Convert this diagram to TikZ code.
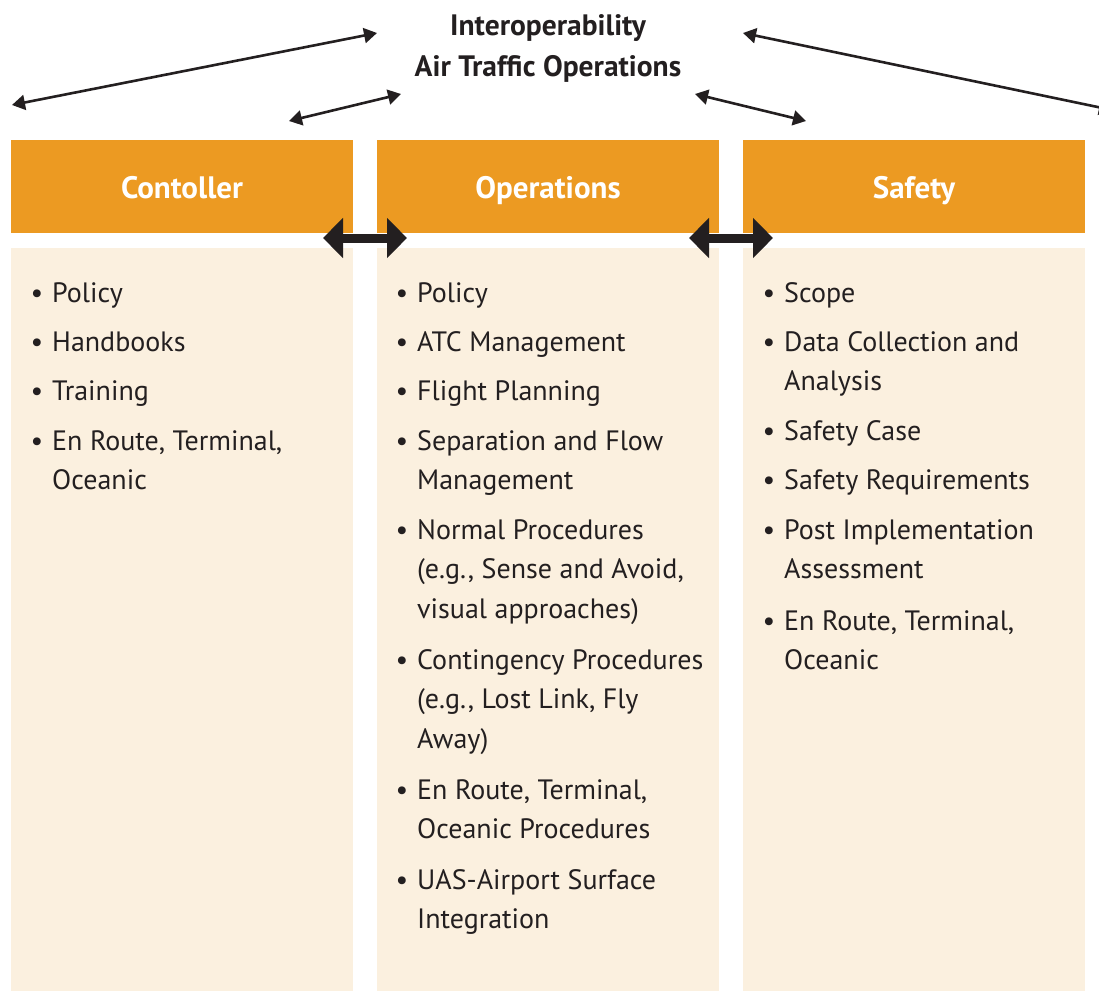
\documentclass[tikz,border=0pt]{standalone}
\usepackage{fontspec}
\setmainfont{PT Sans}
\usetikzlibrary{arrows.meta}
\definecolor{hdr}{HTML}{EC9A22}
\definecolor{bodyc}{HTML}{FBF0DF}
\definecolor{ink}{HTML}{231F20}
\tikzset{
  hdrbox/.style={fill=hdr,draw=none},
  bodybox/.style={fill=bodyc,draw=none},
  hdrtext/.style={text=white,font=\fontsize{31}{34}\selectfont\bfseries,inner sep=0pt,anchor=base},
  titletext/.style={text=ink,font=\fontsize{29.5}{41}\selectfont\bfseries,align=center,inner sep=0pt},
  itemtext/.style={text=ink,font=\fontsize{28}{39.5}\selectfont,anchor=base west,inner sep=0pt},
  bul/.style={text=ink,font=\fontsize{28}{39.5}\selectfont,anchor=base,inner sep=0pt},
  thinarrow/.style={draw=ink,line width=2.6pt,{Triangle[length=13pt,width=15pt]}-{Triangle[length=13pt,width=15pt]}},
  thickarrow/.style={draw=ink,line width=9pt,{Triangle[length=20pt,width=39pt]}-{Triangle[length=20pt,width=39pt]}}
}
\newcommand{\Lines}[1]{\begin{tabular}[t]{@{}l@{}}#1\end{tabular}}
\begin{document}
\begin{tikzpicture}[x=1pt,y=-1pt]
\useasboundingbox (0,0) rectangle (1099,990);
% boxes
\node[hdrbox,minimum width=342pt,minimum height=93pt,anchor=north west] (h1) at (11,140) {};
\node[hdrbox,minimum width=342pt,minimum height=93pt,anchor=north west] (h2) at (377,140) {};
\node[hdrbox,minimum width=342pt,minimum height=93pt,anchor=north west] (h3) at (743,140) {};
\node[bodybox,minimum width=342pt,minimum height=745pt,anchor=north west] (b1) at (11,248) {};
\node[bodybox,minimum width=342pt,minimum height=745pt,anchor=north west] (b2) at (377,248) {};
\node[bodybox,minimum width=342pt,minimum height=745pt,anchor=north west] (b3) at (743,248) {};
% header texts
\node[hdrtext] (t1) at (182,198) {Contoller};
\node[hdrtext] (t2) at (548,198) {Operations};
\node[hdrtext] (t3) at (914,198) {Safety};
% title (base anchor = last line)
\node[titletext,anchor=base] (title) at (548,77) {Interoperability\\Air Traffic Operations};
% thin arrows
\coordinate (a1s) at (12,105); \coordinate (a1e) at (377,33);
\coordinate (a2s) at (289,121); \coordinate (a2e) at (401,94);
\coordinate (a3s) at (743,33); \coordinate (a3e) at (1112,110);
\coordinate (a4s) at (695,94); \coordinate (a4e) at (806,121);
\draw[thinarrow] (a1s) -- (a1e);
\draw[thinarrow] (a2s) -- (a2e);
\draw[thinarrow] (a3s) -- (a3e);
\draw[thinarrow] (a4s) -- (a4e);
% thick arrows
\coordinate (k1s) at (323,238); \coordinate (k1e) at (407,238);
\coordinate (k2s) at (689,238); \coordinate (k2e) at (773,238);
\draw[thickarrow] (k1s) -- (k1e);
\draw[thickarrow] (k2s) -- (k2e);
% left column
\node[bul] (lb1) at (37,302) {\textbullet}; \node[itemtext] (l1) at (52,302) {\Lines{Policy}};
\node[bul] (lb2) at (37,351) {\textbullet}; \node[itemtext] (l2) at (52,351) {\Lines{Handbooks}};
\node[bul] (lb3) at (37,400) {\textbullet}; \node[itemtext] (l3) at (52,400) {\Lines{Training}};
\node[bul] (lb4) at (37,450) {\textbullet}; \node[itemtext] (l4) at (52,450) {\Lines{En Route, Terminal,\\Oceanic}};
% middle column
\node[bul] (mb1) at (402,302) {\textbullet}; \node[itemtext] (m1) at (417,302) {\Lines{Policy}};
\node[bul] (mb2) at (402,351) {\textbullet}; \node[itemtext] (m2) at (417,351) {\Lines{ATC Management}};
\node[bul] (mb3) at (402,400) {\textbullet}; \node[itemtext] (m3) at (417,400) {\Lines{Flight Planning}};
\node[bul] (mb4) at (402,450) {\textbullet}; \node[itemtext] (m4) at (417,450) {\Lines{Separation and Flow\\Management}};
\node[bul] (mb5) at (402,539) {\textbullet}; \node[itemtext] (m5) at (417,539) {\Lines{Normal Procedures\\(e.g., Sense and Avoid,\\visual approaches)}};
\node[bul] (mb6) at (402,669) {\textbullet}; \node[itemtext] (m6) at (417,669) {\Lines{Contingency Procedures\\(e.g., Lost Link, Fly\\Away)}};
\node[bul] (mb7) at (402,799) {\textbullet}; \node[itemtext] (m7) at (417,799) {\Lines{En Route, Terminal,\\Oceanic Procedures}};
\node[bul] (mb8) at (402,889) {\textbullet}; \node[itemtext] (m8) at (417,889) {\Lines{UAS-Airport Surface\\Integration}};
% right column
\node[bul] (rb1) at (769,302) {\textbullet}; \node[itemtext] (r1) at (784,302) {\Lines{Scope}};
\node[bul] (rb2) at (769,351) {\textbullet}; \node[itemtext] (r2) at (784,351) {\Lines{Data Collection and\\Analysis}};
\node[bul] (rb3) at (769,440) {\textbullet}; \node[itemtext] (r3) at (784,440) {\Lines{Safety Case}};
\node[bul] (rb4) at (769,489) {\textbullet}; \node[itemtext] (r4) at (784,489) {\Lines{Safety Requirements}};
\node[bul] (rb5) at (769,539) {\textbullet}; \node[itemtext] (r5) at (784,539) {\Lines{Post Implementation\\Assessment}};
\node[bul] (rb6) at (769,630) {\textbullet}; \node[itemtext] (r6) at (784,630) {\Lines{En Route, Terminal,\\Oceanic}};
\end{tikzpicture}
\end{document}
